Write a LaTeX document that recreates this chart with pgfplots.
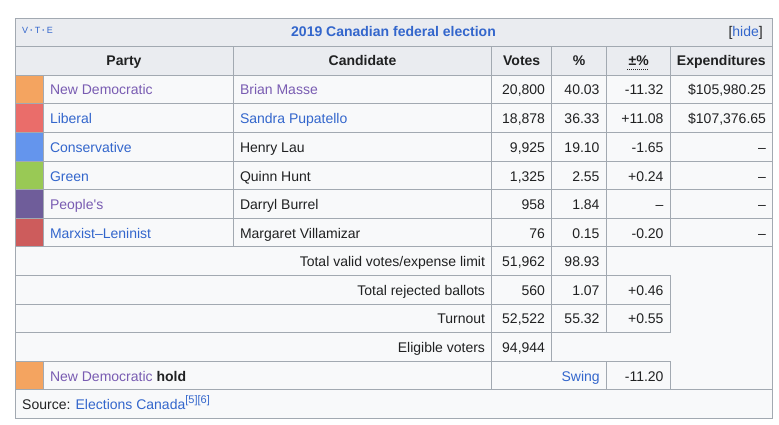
\documentclass[border=0pt]{standalone}
\usepackage{fontspec}
\setmainfont{Liberation Sans}
\usepackage{pgfplots}
\pgfplotsset{compat=1.18}
\definecolor{bord}{HTML}{A2A9B1}
\definecolor{hdr}{HTML}{EAECF0}
\definecolor{cellbg}{HTML}{F8F9FA}
\definecolor{txt}{HTML}{202122}
\definecolor{lnk}{HTML}{3366CC}
\definecolor{vis}{HTML}{795CB2}
\definecolor{ndp}{HTML}{F4A460}
\definecolor{lib}{HTML}{EA6D6A}
\definecolor{cpc}{HTML}{6495ED}
\definecolor{grn}{HTML}{99C955}
\definecolor{ppc}{HTML}{6F5D9A}
\definecolor{ml}{HTML}{CD5C5C}
\pgfplotsset{cell/.style 2 args={draw=none, mark=none, forget plot, point meta=explicit symbolic, nodes near coords,
  every node near coord/.append style={anchor=#1, inner sep=0pt, outer sep=0pt, text=#2, font=\fontsize{14}{16}\selectfont}}}
\begin{document}
\begin{tikzpicture}[font=\fontsize{14}{16}\selectfont]
\begin{axis}[width=779pt,height=425pt,scale only axis,xmin=0,xmax=779,ymin=0,ymax=425,y dir=reverse,hide axis,clip=false]
\fill[white] (0,0) rectangle (779,425);
\fill[cellbg] (15.5,18.5) rectangle (772.5,418.5);
\fill[hdr] (15.5,18.5) rectangle (772.5,75.5);
\fill[ndp] (15.5,75.5) rectangle (43.5,103.5);
\fill[lib] (15.5,103.5) rectangle (43.5,132.5);
\fill[cpc] (15.5,132.5) rectangle (43.5,161.5);
\fill[grn] (15.5,161.5) rectangle (43.5,189.5);
\fill[ppc] (15.5,189.5) rectangle (43.5,218.5);
\fill[ml] (15.5,218.5) rectangle (43.5,246.5);
\fill[ndp] (15.5,361.5) rectangle (43.5,389.5);
% grid
\draw[bord,line width=1pt] (15.5,46.5) -- (772.5,46.5);
\draw[bord,line width=1pt] (15.5,75.5) -- (772.5,75.5);
\draw[bord,line width=1pt] (15.5,103.5) -- (772.5,103.5);
\draw[bord,line width=1pt] (15.5,132.5) -- (772.5,132.5);
\draw[bord,line width=1pt] (15.5,161.5) -- (772.5,161.5);
\draw[bord,line width=1pt] (15.5,189.5) -- (772.5,189.5);
\draw[bord,line width=1pt] (15.5,218.5) -- (772.5,218.5);
\draw[bord,line width=1pt] (15.5,246.5) -- (772.5,246.5);
\draw[bord,line width=1pt] (15.5,389.5) -- (772.5,389.5);
\draw[bord,line width=1pt] (15.5,275.5) -- (670.5,275.5);
\draw[bord,line width=1pt] (15.5,304.5) -- (670.5,304.5);
\draw[bord,line width=1pt] (15.5,332.5) -- (670.5,332.5);
\draw[bord,line width=1pt] (15.5,361.5) -- (670.5,361.5);
\draw[bord,line width=1pt] (43.5,75.5) -- (43.5,246.5);
\draw[bord,line width=1pt] (43.5,361.5) -- (43.5,389.5);
\draw[bord,line width=1pt] (233.5,46.5) -- (233.5,246.5);
\draw[bord,line width=1pt] (491.5,46.5) -- (491.5,389.5);
\draw[bord,line width=1pt] (551.5,46.5) -- (551.5,361.5);
\draw[bord,line width=1pt] (606.5,46.5) -- (606.5,332.5);
\draw[bord,line width=1pt] (606.5,361.5) -- (606.5,389.5);
\draw[bord,line width=1pt] (670.5,46.5) -- (670.5,246.5);
\draw[bord,line width=1pt] (670.5,275.5) -- (670.5,332.5);
\draw[bord,line width=1pt] (670.5,361.5) -- (670.5,389.5);
\draw[bord,line width=1pt] (15.5,18.5) rectangle (772.5,418.5);
% title row
\node[anchor=base west, inner sep=0pt, text=lnk, font=\fontsize{9}{10}\selectfont] at (22,33.9) {V\hspace{1.8pt}\textbf{·}\hspace{1.8pt}T\hspace{1.8pt}\textbf{·}\hspace{1.8pt}E};
\node[anchor=base, inner sep=0pt, text=lnk, font=\fontsize{14}{16}\selectfont\bfseries] at (393.5,37) {2019 Canadian federal election};
\node[anchor=base east, inner sep=0pt, text=txt] at (763,37) {[\textcolor{lnk}{hide}]};
\draw[txt, line width=1pt, dash pattern=on 1pt off 1pt] (627,69.5) -- (648,69.5);
% header
\addplot[cell={base}{txt}] coordinates {(124,66) [\textbf{Party}] (362.5,66) [\textbf{Candidate}] (521.7,66) [\textbf{Votes}] (579.2,66) [\textbf{\%}] (638.7,66) [\textbf{±\%}] (721.3,66) [\textbf{Expenditures}]};
% party names
\addplot[cell={base west}{vis}] coordinates {(50,95) [New Democratic] (50,209.8) [People\textquotesingle s]};
\addplot[cell={base west}{lnk}] coordinates {(50,123.7) [Liberal] (50,152.4) [Conservative] (50,181.1) [Green] (50,238.5) [Marxist–Leninist]};
% candidates
\addplot[cell={base west}{vis}] coordinates {(240,95) [Brian Masse]};
\addplot[cell={base west}{lnk}] coordinates {(240,123.7) [Sandra Pupatello]};
\addplot[cell={base west}{txt}] coordinates {(240,152.4) [Henry Lau] (240,181.1) [Quinn Hunt] (240,209.8) [Darryl Burrel] (240,238.5) [Margaret Villamizar]};
% votes
\addplot[cell={base east}{txt}] coordinates {(545,95) [20,800] (545,123.7) [18,878] (545,152.4) [9,925] (545,181.1) [1,325] (545,209.8) [958] (545,238.5) [76] (545,266.7) [51,962] (545,295.3) [560] (545,323.3) [52,522] (545,352.3) [94,944]};
% percent
\addplot[cell={base east}{txt}] coordinates {(599.5,95) [40.03] (599.5,123.7) [36.33] (599.5,152.4) [19.10] (599.5,181.1) [2.55] (599.5,209.8) [1.84] (599.5,238.5) [0.15] (599.5,266.7) [98.93] (599.5,295.3) [1.07] (599.5,323.3) [55.32]};
% change
\addplot[cell={base east}{txt}] coordinates {(663.5,95) [-11.32] (663.5,123.7) [+11.08] (663.5,152.4) [-1.65] (663.5,181.1) [+0.24] (663.5,209.8) [–] (663.5,238.5) [-0.20] (663.5,295.3) [+0.46] (663.5,323.3) [+0.55] (663.5,381) [-11.20]};
% expenditures
\addplot[cell={base east}{txt}] coordinates {(766,95) [\$105,980.25] (766,123.7) [\$107,376.65] (766,152.4) [–] (766,181.1) [–] (766,209.8) [–] (766,238.5) [–]};
% totals labels
\addplot[cell={base east}{txt}] coordinates {(485,266.7) [Total valid votes/expense limit] (485,295.3) [Total rejected ballots] (485,323.3) [Turnout] (485,352.3) [Eligible voters]};
\addplot[cell={base east}{lnk}] coordinates {(599.7,381) [Swing]};
\addplot[cell={base west}{vis}] coordinates {(50,381) [New Democratic \textcolor{txt}{\textbf{hold}}]};
% source
\node[anchor=base west, inner sep=0pt, text=txt] at (22,409.3) {Source: \textcolor{lnk}{Elections Canada\raisebox{5.5pt}{\fontsize{11}{12}\selectfont[5][6]}}};
\path (0,0) rectangle (779,425);
\end{axis}
\end{tikzpicture}
\end{document}
